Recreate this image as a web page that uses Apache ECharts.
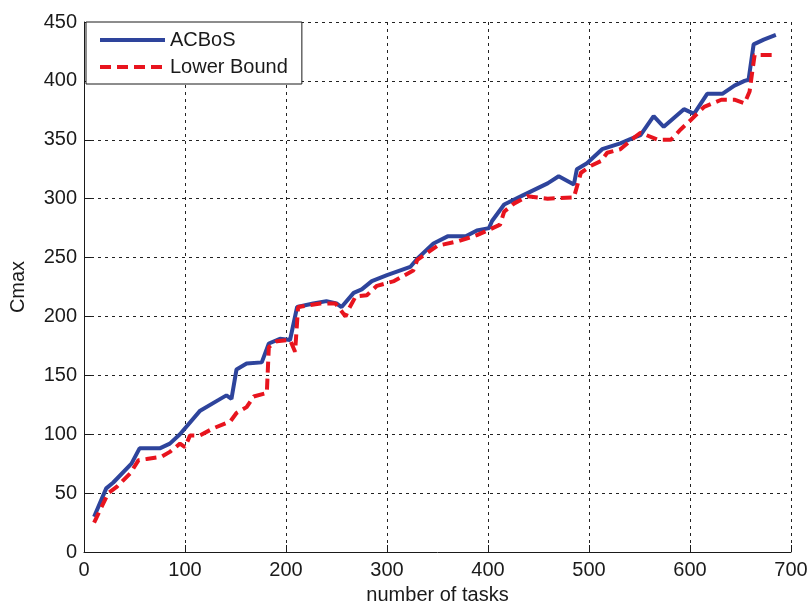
<!DOCTYPE html>
<html>
<head>
<meta charset="utf-8">
<script src="https://cdn.jsdelivr.net/npm/echarts@6/dist/echarts.min.js"></script>
<style>
  html, body { margin: 0; padding: 0; background: #fff; }
  #chart { width: 810px; height: 602px; }
</style>
</head>
<body>
<div id="chart"></div>
<script>
// ACBoS curve (number of tasks, Cmax)
const acbosTasks = [10, 22, 29, 47, 55, 75, 85, 95, 115, 135, 141, 146, 151, 161, 176, 183, 194, 204, 211, 227, 240, 250, 255, 267, 275, 285, 300, 323, 330, 346, 360, 378, 389, 401, 404, 416, 435, 459, 470, 485, 488, 498, 513, 531, 545, 551, 564, 574, 594, 604, 617, 632, 644, 654, 658, 663, 673, 685]
const acbosCmax = [30, 54, 59, 75, 88, 88, 92, 100, 120, 130, 133, 130, 155, 160, 161, 177, 181, 180, 208, 211, 213, 211, 208, 220, 223, 230, 235, 242, 249, 262, 268, 268, 273, 275, 281, 295, 303, 313, 319, 312, 325, 330, 342, 347, 352, 354, 370, 361, 376, 372, 389, 389, 396, 400, 401, 431, 435, 439]

// Lower bound curve
const lowerTasks = [10, 24, 32, 46, 54, 62, 77, 85, 95, 100, 105, 115, 128, 145, 151, 161, 168, 181, 183, 191, 204, 209, 212, 234, 249, 259, 262, 269, 280, 290, 307, 326, 330, 350, 371, 389, 402, 412, 416, 426, 439, 459, 485, 492, 502, 512, 518, 531, 545, 551, 568, 581, 591, 601, 614, 631, 644, 654, 659, 662, 664, 685]
const lowerCmax = [25, 50, 55, 67, 78, 79, 81, 85, 92, 89, 99, 99, 105, 111, 118, 123, 132, 135, 174, 179, 180, 170, 208, 211, 211, 200, 206, 217, 218, 226, 230, 239, 248, 260, 264, 269, 274, 278, 289, 296, 302, 300, 301, 322, 328, 332, 339, 342, 352, 356, 350, 350, 359, 367, 378, 384, 384, 381, 391, 410, 422, 422]

const xTicks = [0, 100, 200, 300, 400, 500, 600, 700]
const yTicks = [0, 50, 100, 150, 200, 250, 300, 350, 400, 450]

const pairs = (xs, ys) => xs.map((x, i) => [x, ys[i]])

const chart = echarts.init(document.getElementById('chart'))
const font = 'Liberation Sans, Arial, sans-serif'
const ink = '#1a1a1a'

chart.setOption({
  animation: false,
  backgroundColor: '#fff',
  grid: {
    left: 84,
    right: 19,
    top: 22,
    bottom: 50,
    containLabel: false,
    outerBoundsMode: 'none'
  },
  legend: {
    orient: 'vertical',
    left: 86,
    top: 22,
    itemWidth: 65,
    itemHeight: 20,
    itemGap: 7,
    padding: [8, 14, 7, 12],
    borderColor: ink,
    borderWidth: 1,
    borderRadius: 0,
    backgroundColor: '#fff',
    itemStyle: { opacity: 0 },
    lineStyle: { width: 4 },
    textStyle: { fontFamily: font, fontSize: 20, color: ink },
    data: ['ACBoS', 'Lower Bound']
  },
  xAxis: {
    type: 'value',
    min: xTicks[0],
    max: xTicks[xTicks.length - 1],
    interval: 100,
    name: 'number of tasks',
    nameLocation: 'middle',
    nameGap: 33,
    nameTextStyle: { fontFamily: font, fontSize: 20, color: ink },
    axisLine: { show: true, lineStyle: { color: ink } },
    axisTick: { inside: true, length: 7, lineStyle: { color: ink } },
    axisLabel: { fontFamily: font, fontSize: 20, color: ink, margin: 8 },
    splitLine: { show: true, lineStyle: { color: '#222', type: [3, 4], width: 1 } }
  },
  yAxis: {
    type: 'value',
    min: yTicks[0],
    max: yTicks[yTicks.length - 1],
    interval: 50,
    name: 'Cmax',
    nameLocation: 'middle',
    nameGap: 56,
    nameTextStyle: { fontFamily: font, fontSize: 20, color: ink },
    axisLine: { show: true, lineStyle: { color: ink } },
    axisTick: { show: true, inside: true, length: 7, lineStyle: { color: ink } },
    axisLabel: { fontFamily: font, fontSize: 20, color: ink, margin: 7 },
    splitLine: { show: true, lineStyle: { color: '#222', type: [3, 4], width: 1 } }
  },
  series: [
    {
      name: 'ACBoS',
      type: 'line',
      symbol: 'none',
      data: pairs(acbosTasks, acbosCmax),
      itemStyle: { color: '#2e449c' },
      lineStyle: { color: '#2e449c', width: 4 },
      z: 3
    },
    {
      name: 'Lower Bound',
      type: 'line',
      symbol: 'none',
      data: pairs(lowerTasks, lowerCmax),
      itemStyle: { color: '#e8141e' },
      lineStyle: { color: '#e8141e', width: 4, type: [11, 6] },
      z: 4
    }
  ]
})
</script>
</body>
</html>
